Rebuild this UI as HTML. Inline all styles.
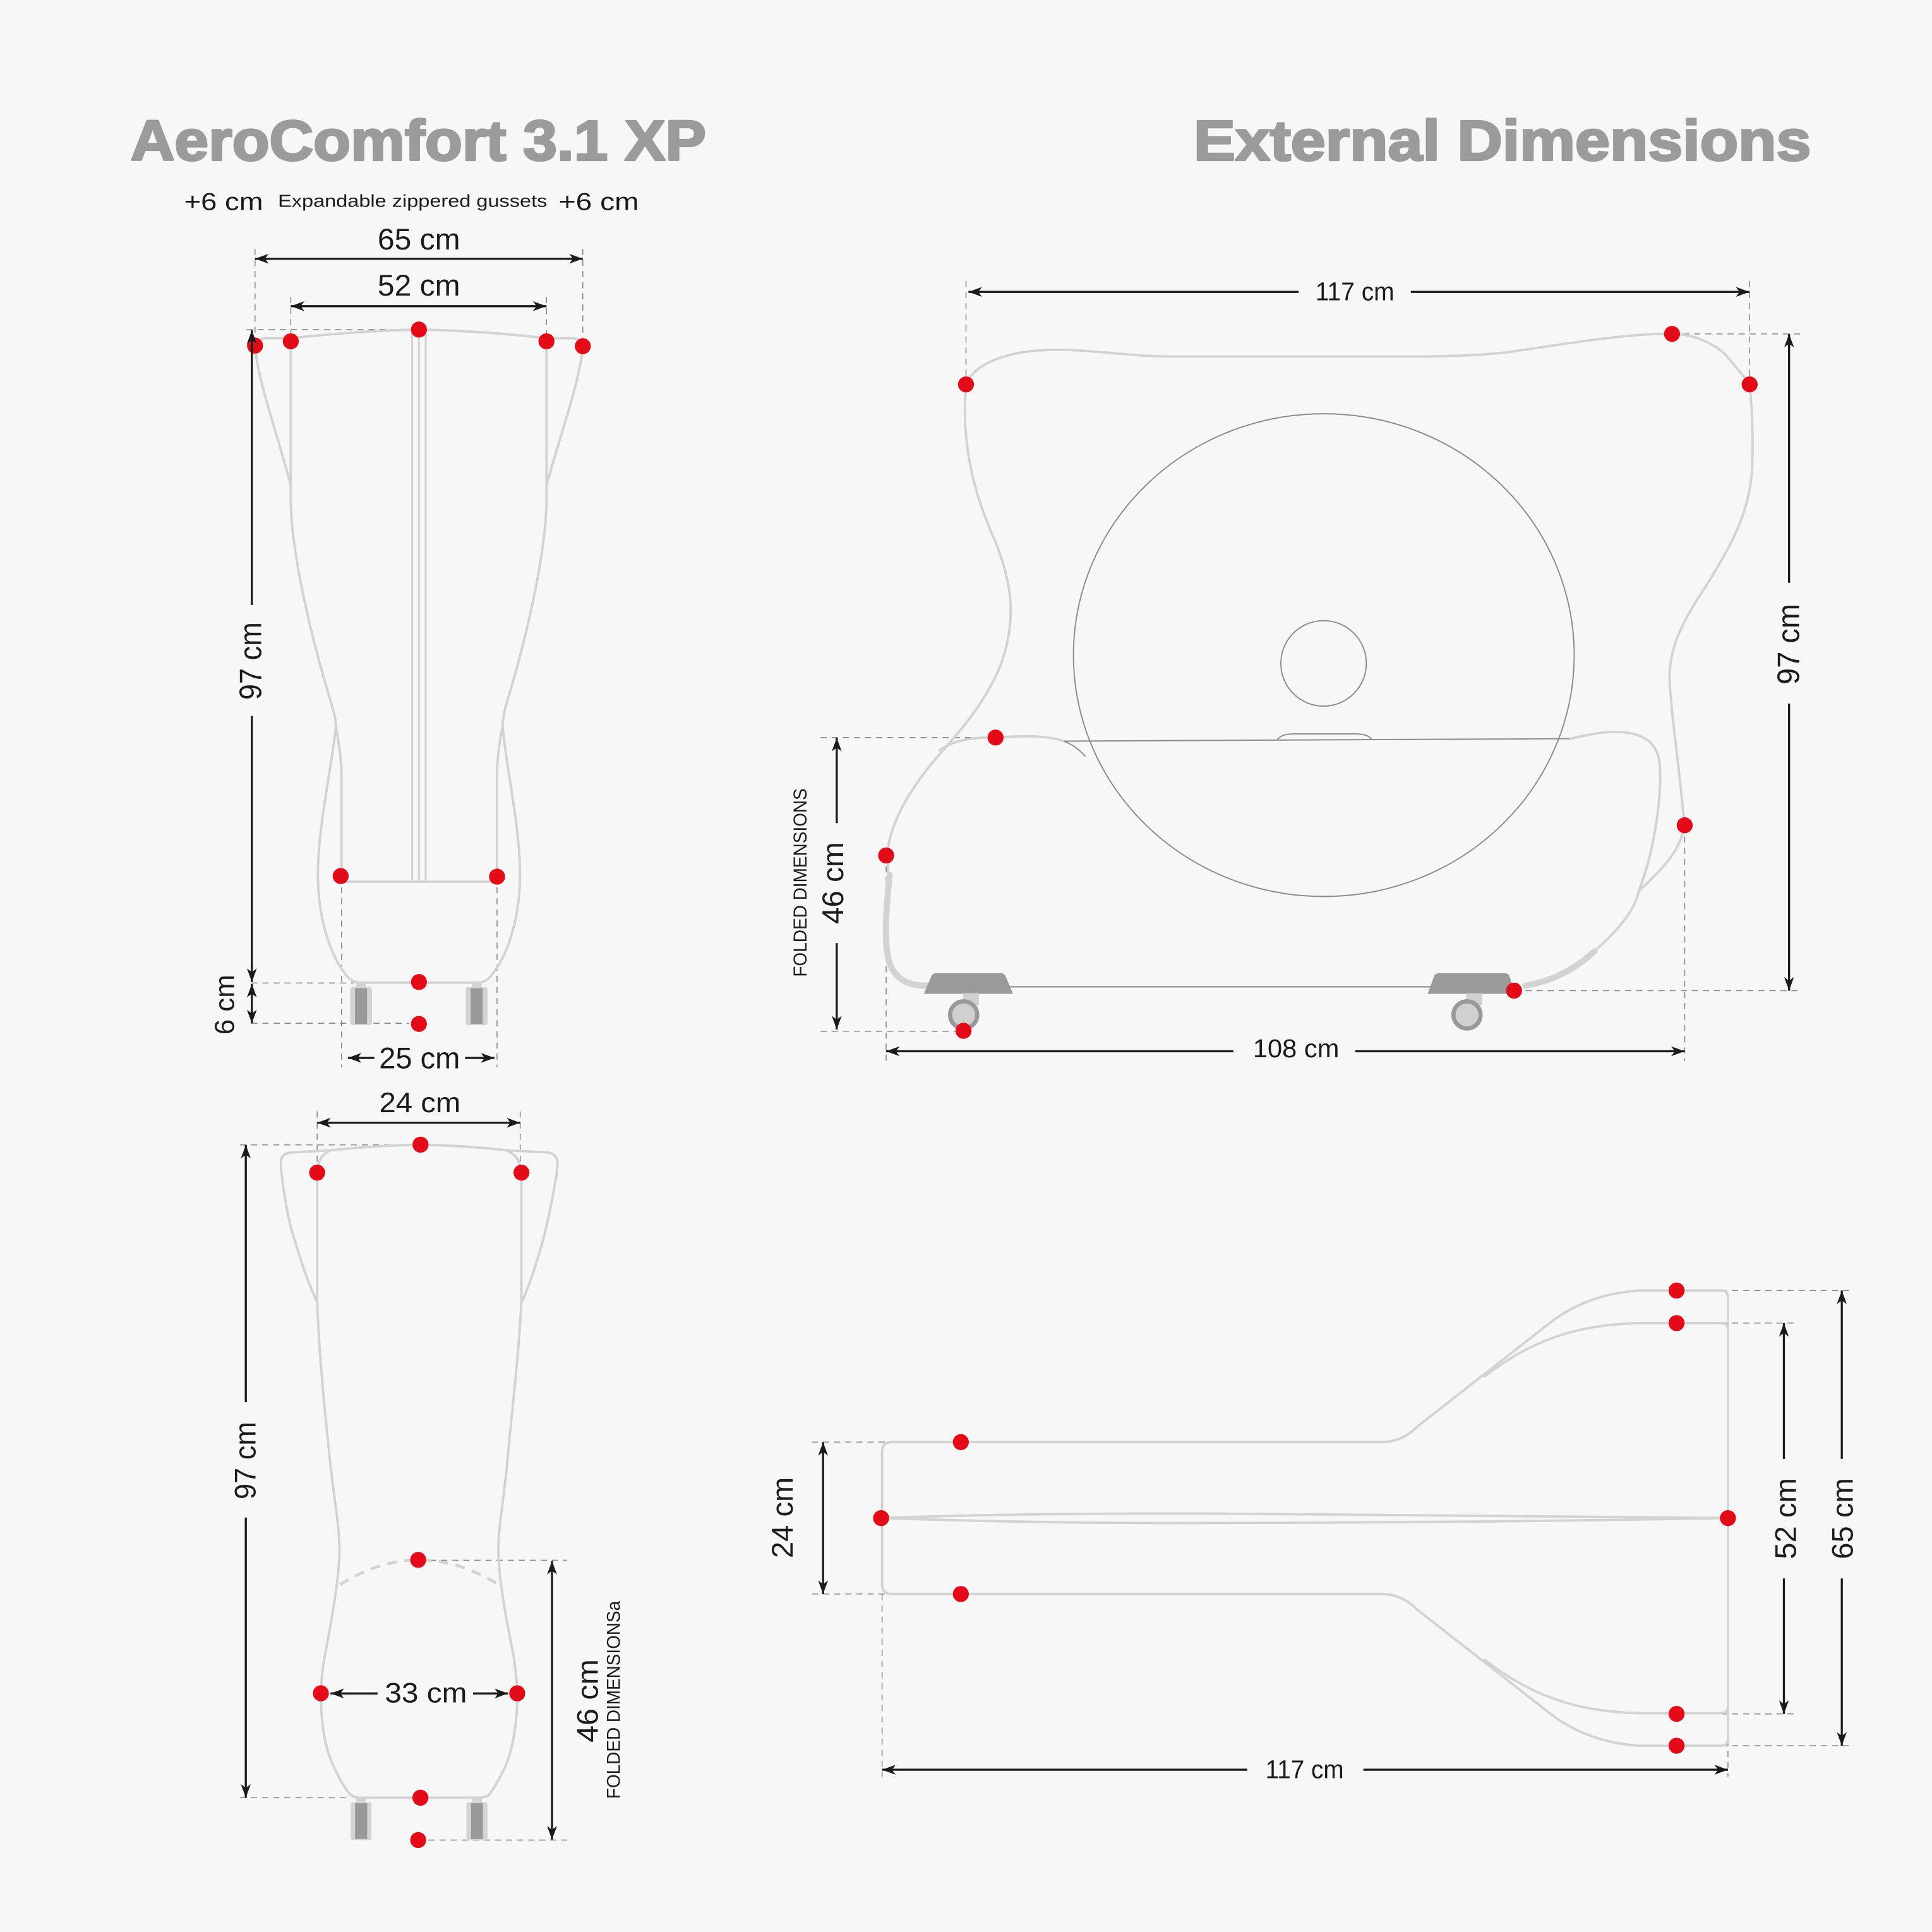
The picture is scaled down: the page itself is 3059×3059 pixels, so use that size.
<!DOCTYPE html>
<html><head><meta charset="utf-8"><style>
html,body{margin:0;padding:0;background:#f7f7f7;}
svg{display:block;}
.o{fill:none;stroke:#d3d3d3;stroke-width:2;stroke-linecap:round;stroke-linejoin:round}
.z{fill:none;stroke:#d3d3d3;stroke-width:1.6}
.k{fill:none;stroke:#d3d3d3;stroke-width:5;stroke-linecap:round}
.t{fill:none;stroke:#8c8c8c;stroke-width:1}
.d{fill:none;stroke:#8a8a8a;stroke-width:0.8;stroke-dasharray:5 4}
.a{fill:none;stroke:#1b1b1b;stroke-width:1.7}
.r{fill:#e20b17}
text{font-family:"Liberation Sans",Arial,sans-serif;fill:#1b1b1b}
.ti{font-weight:bold;fill:#9b9b9b;font-size:46px;stroke:#9b9b9b;stroke-width:1.7;stroke-linejoin:round}
</style></head><body>
<svg xmlns="http://www.w3.org/2000/svg" width="3059" height="3059" viewBox="0 0 1568 1568">
<defs>
<marker id="ah" viewBox="0 0 12 10" refX="11" refY="5" markerWidth="12" markerHeight="10" markerUnits="userSpaceOnUse" orient="auto-start-reverse">
<path d="M0,1 L11,5 L0,9 L3,5 Z" fill="#1b1b1b"/>
</marker>
</defs>
<rect x="0" y="0" width="1568" height="1568" fill="#f7f7f7"/>

<!-- Titles -->
<text class="ti" x="106" y="130" textLength="467" lengthAdjust="spacingAndGlyphs">AeroComfort 3.1 XP</text>
<text class="ti" x="968.8" y="130" textLength="501" lengthAdjust="spacingAndGlyphs">External Dimensions</text>

<!-- ================= TOP-LEFT (front view) ================= -->
<text x="149.5" y="170.5" font-size="20" textLength="64" lengthAdjust="spacingAndGlyphs">+6 cm</text>
<text x="225.6" y="167.8" font-size="14" textLength="218.5" lengthAdjust="spacingAndGlyphs">Expandable zippered gussets</text>
<text x="453.5" y="170.5" font-size="20" textLength="65" lengthAdjust="spacingAndGlyphs">+6 cm</text>
<text x="340" y="202.5" font-size="24" text-anchor="middle" textLength="67" lengthAdjust="spacingAndGlyphs">65 cm</text>
<text x="340" y="240" font-size="24" text-anchor="middle" textLength="67" lengthAdjust="spacingAndGlyphs">52 cm</text>

<line class="d" x1="200" y1="267.5" x2="340" y2="267.5"/>
<line class="d" x1="207" y1="202" x2="207" y2="280"/>
<line class="d" x1="473" y1="202" x2="473" y2="281"/>
<line class="d" x1="236" y1="241" x2="236" y2="277"/>
<line class="d" x1="443.5" y1="241" x2="443.5" y2="277"/>
<line class="d" x1="204" y1="797.8" x2="287" y2="797.8"/>
<line class="d" x1="204" y1="830.5" x2="332" y2="830.5"/>
<line class="d" x1="277.2" y1="711" x2="277.2" y2="866"/>
<line class="d" x1="403.4" y1="711" x2="403.4" y2="866"/>

<path class="o" d="M207,283 Q208,274.5 216,274.5 L236,274.5 Q290,268.5 340,267.5 Q392,268.5 443.5,274.5 L465,274.5 Q472,275 473,283"/>
<path class="o" d="M207,283 C211,315 226,355 236,394"/>
<path class="o" d="M473,283 C469,315 454,355 443.5,394"/>
<path class="o" d="M236,277 L236,409 C237,450 252,515 268,568 C271,578 272.7,584 272.7,589 C275,605 277.2,615 277.2,630 L277.2,711"/>
<path class="o" d="M443.5,277 L443.5,409 C442.5,450 428,515 412,568 C409,578 407.9,584 407.9,589 C405,605 403.4,615 403.4,630 L403.4,711"/>
<path class="o" d="M272.7,589 C269,625 258,670 258,710 C258,745 268,775 280,790 Q285,797.5 292,797.5 L388,797.5 Q395,797.5 400,790 C412,775 422,745 422,710 C422,670 411,625 407.9,589"/>
<line class="o" x1="277.2" y1="715.6" x2="403.4" y2="715.6"/>
<line class="z" x1="334.5" y1="267.5" x2="334.5" y2="715.6"/>
<line class="z" x1="340" y1="267.5" x2="340" y2="715.6"/>
<line class="z" x1="345.5" y1="267.5" x2="345.5" y2="715.6"/>

<rect x="289" y="797" width="8" height="6" fill="#d3d3d3"/>
<rect x="284.2" y="801" width="17.7" height="31" rx="2" fill="#d3d3d3"/>
<rect x="288.1" y="802" width="9.8" height="29" fill="#999"/>
<rect x="383" y="797" width="8" height="6" fill="#d3d3d3"/>
<rect x="378" y="801" width="17.7" height="31" rx="2" fill="#d3d3d3"/>
<rect x="381.9" y="802" width="9.8" height="29" fill="#999"/>

<circle class="r" cx="207" cy="280.5" r="6.5"/>
<circle class="r" cx="236" cy="277" r="6.5"/>
<circle class="r" cx="340" cy="267.5" r="6.5"/>
<circle class="r" cx="443.5" cy="277" r="6.5"/>
<circle class="r" cx="473" cy="281" r="6.5"/>
<circle class="r" cx="276.5" cy="711" r="6.5"/>
<circle class="r" cx="403.4" cy="711.5" r="6.5"/>
<circle class="r" cx="340" cy="797" r="6.5"/>
<circle class="r" cx="340" cy="831" r="6.5"/>

<line class="a" x1="207" y1="210" x2="473" y2="210" marker-start="url(#ah)" marker-end="url(#ah)"/>
<line class="a" x1="236" y1="248.5" x2="443.5" y2="248.5" marker-start="url(#ah)" marker-end="url(#ah)"/>
<line class="a" x1="204.4" y1="268" x2="204.4" y2="491" marker-start="url(#ah)"/>
<line class="a" x1="204.4" y1="581" x2="204.4" y2="797" marker-end="url(#ah)"/>
<line class="a" x1="204.4" y1="798.5" x2="204.4" y2="830.5" marker-start="url(#ah)" marker-end="url(#ah)"/>
<line class="a" x1="303.8" y1="858.6" x2="282.3" y2="858.6" marker-end="url(#ah)"/>
<line class="a" x1="377.4" y1="858.6" x2="401.3" y2="858.6" marker-end="url(#ah)"/>

<text transform="translate(212,536.5) rotate(-90)" font-size="25" text-anchor="middle" textLength="63" lengthAdjust="spacingAndGlyphs">97 cm</text>
<text transform="translate(190,815.4) rotate(-90)" font-size="22.5" text-anchor="middle" textLength="48.7" lengthAdjust="spacingAndGlyphs">6 cm</text>
<text x="340.5" y="867" font-size="24" text-anchor="middle" textLength="65.7" lengthAdjust="spacingAndGlyphs">25 cm</text>

<!-- ================= TOP-RIGHT (side view) ================= -->
<line class="d" x1="784" y1="228" x2="784" y2="312"/>
<line class="d" x1="1420" y1="228" x2="1420" y2="312"/>
<line class="d" x1="1357" y1="271" x2="1462" y2="271"/>
<line class="d" x1="666" y1="598.6" x2="808" y2="598.6"/>
<line class="d" x1="666" y1="837" x2="782" y2="837"/>
<line class="d" x1="1229" y1="804" x2="1462" y2="804"/>
<line class="d" x1="719.2" y1="694" x2="719.2" y2="861"/>
<line class="d" x1="1367.3" y1="670" x2="1367.3" y2="861"/>

<ellipse class="t" cx="1074.4" cy="531.7" rx="203.2" ry="195.9"/>
<circle class="t" cx="1074.2" cy="538.4" r="34.7"/>
<line class="t" x1="862.5" y1="601.5" x2="1274.7" y2="599.5"/>
<path class="t" d="M862.5,601.5 Q872,604 881,614"/>
<path class="t" d="M1036.7,600.3 Q1040,595.6 1050,595.6 L1100,595.6 Q1110,595.6 1113.2,600"/>
<line x1="750" y1="800.8" x2="1229" y2="800.8" stroke="#999" stroke-width="1.2"/>

<path class="o" d="M784,312 C790,296 815,285 852,284 C880,283 915,289 947,289.3 L1156,289.3 C1185,289 1205,288 1222,286 C1260,281 1320,270 1357,271 C1375,271 1395,280 1404,292 C1412,302 1418,308 1420,312"/>
<path class="o" d="M784,312 C780,360 790,400 808,440 C822,475 825,505 812,540 C800,570 778,595 760,615 C735,645 722,670 720,694 L721,709"/>
<path class="o" d="M1420,312 C1422,330 1423,360 1422,380 C1420,420 1400,450 1385,475 C1365,505 1355,525 1355,550 C1356,580 1363,620 1367,670"/>
<path class="o" d="M1367,670 C1364,690 1350,705 1330,723"/>
<path class="o" d="M762.6,609 C775,600 790,598.5 808,598.5 C820,598 835,597 845,598 C855,599 860,600 862.5,601.5"/>
<path class="o" d="M1274.7,599.5 C1290,596 1300,594 1310,594 C1330,594 1345,600 1347,620 C1349,645 1343,690 1330,723 C1327,740 1310,758 1294,772"/>
<path class="k" d="M722,710 C719,740 717,765 722,782 C728,797 740,800 752,800"/>
<path class="k" d="M1294,772 C1275,790 1255,797 1238,800"/>

<path d="M749.8,806.6 L756,792 Q757,789.8 760,789.8 L812,789.8 Q815,789.8 816,792 L822.1,806.6 Z" fill="#9a9a9a"/>
<path d="M1158.7,806.6 L1164,792 Q1165,789.8 1168,789.8 L1221,789.8 Q1224,789.8 1225,792 L1229.7,806.6 Z" fill="#9a9a9a"/>
<rect x="781.7" y="806" width="12.8" height="10" fill="#d0d0d0"/>
<rect x="1190" y="806" width="13" height="10" fill="#d0d0d0"/>
<circle cx="782.1" cy="823.7" r="11" fill="#d0d0d0" stroke="#999" stroke-width="3.4"/>
<circle cx="1190.6" cy="823.7" r="11" fill="#d0d0d0" stroke="#999" stroke-width="3.4"/>

<circle class="r" cx="784" cy="312" r="6.5"/>
<circle class="r" cx="1357" cy="271" r="6.5"/>
<circle class="r" cx="1420" cy="312" r="6.5"/>
<circle class="r" cx="808" cy="598.6" r="6.5"/>
<circle class="r" cx="719.2" cy="694.3" r="6.5"/>
<circle class="r" cx="1367.3" cy="669.8" r="6.5"/>
<circle class="r" cx="1228.8" cy="804" r="6.5"/>
<circle class="r" cx="782" cy="836.6" r="6.5"/>

<line class="a" x1="786" y1="236.9" x2="1054" y2="236.9" marker-start="url(#ah)"/>
<line class="a" x1="1145" y1="236.9" x2="1419.8" y2="236.9" marker-end="url(#ah)"/>
<text x="1099.6" y="243.7" font-size="21" text-anchor="middle" textLength="64" lengthAdjust="spacingAndGlyphs">117 cm</text>
<line class="a" x1="1452" y1="271" x2="1452" y2="473" marker-start="url(#ah)"/>
<line class="a" x1="1452" y1="571" x2="1452" y2="804" marker-end="url(#ah)"/>
<text transform="translate(1460,522.8) rotate(-90)" font-size="25" text-anchor="middle" textLength="65.5" lengthAdjust="spacingAndGlyphs">97 cm</text>
<line class="a" x1="679.1" y1="598.8" x2="679.1" y2="668" marker-start="url(#ah)"/>
<line class="a" x1="679.1" y1="765.4" x2="679.1" y2="835.5" marker-end="url(#ah)"/>
<text transform="translate(684.3,716.7) rotate(-90)" font-size="24" text-anchor="middle" textLength="66.6" lengthAdjust="spacingAndGlyphs">46 cm</text>
<text transform="translate(654.7,716.3) rotate(-90)" font-size="15" text-anchor="middle" textLength="153" lengthAdjust="spacingAndGlyphs">FOLDED DIMENSIONS</text>
<line class="a" x1="719.1" y1="853.2" x2="1001" y2="853.2" marker-start="url(#ah)"/>
<line class="a" x1="1100" y1="853.2" x2="1367.3" y2="853.2" marker-end="url(#ah)"/>
<text x="1051.9" y="858" font-size="21" text-anchor="middle" textLength="70" lengthAdjust="spacingAndGlyphs">108 cm</text>

<!-- ================= BOTTOM-LEFT ================= -->
<line class="d" x1="257.4" y1="902" x2="257.4" y2="952"/>
<line class="d" x1="422.2" y1="902" x2="422.2" y2="952"/>
<line class="d" x1="194.7" y1="929.2" x2="341" y2="929.2"/>
<line class="d" x1="194.7" y1="1459" x2="285" y2="1459"/>
<line class="d" x1="340" y1="1266.3" x2="460" y2="1266.3"/>
<line class="d" x1="347.7" y1="1493.4" x2="460.4" y2="1493.4"/>

<path class="o" d="M228,948 L228,942 Q229,935.3 238,935.3 L269,933.5 Q300,930 341,929 Q382,930 410,933.5 L444,935.3 Q452,936 452.6,944 L451.6,953.7"/>
<path class="o" d="M228,948 C231,975 235,995 240,1009 C246,1030 252,1045 257.4,1057"/>
<path class="o" d="M451.6,953.7 C448,975 444,995 440,1009 C434,1030 429,1045 423.2,1057"/>
<path class="o" d="M257.4,952 Q258,937 269,933.5"/>
<path class="o" d="M423.2,952 Q422,937 410,933.5"/>
<path class="o" d="M257.4,952 L257.4,1056 C259,1100 264,1150 267.2,1179 C270,1210 276,1240 275.5,1260 C275,1285 268,1320 264,1342 C261,1358 260.4,1368 260.4,1376 C260.4,1395 263,1418 271,1434 C276,1445 280,1452 285,1457 Q288,1459 293,1459 L388,1459 Q393,1459 396.7,1457 C402,1450 406,1442 410,1434 C417,1418 419.8,1395 419.8,1376 C419.8,1368 419,1358 416.5,1342 C412,1320 405,1285 404.5,1260 C404,1240 410,1210 412.4,1179 C415,1150 421,1100 423.2,1056 L423.2,952"/>
<path d="M276,1286 Q340,1246 404.5,1286" fill="none" stroke="#d3d3d3" stroke-width="2.4" stroke-dasharray="8 6"/>

<rect x="289" y="1458" width="8" height="6" fill="#d3d3d3"/>
<rect x="284.5" y="1462.6" width="17" height="30.8" rx="2" fill="#d3d3d3"/>
<rect x="288.2" y="1463.5" width="9.8" height="29" fill="#999"/>
<rect x="383" y="1458" width="8" height="6" fill="#d3d3d3"/>
<rect x="378.6" y="1462.6" width="17" height="30.8" rx="2" fill="#d3d3d3"/>
<rect x="382.3" y="1463.5" width="9.6" height="29" fill="#999"/>

<circle class="r" cx="257.4" cy="951.7" r="6.5"/>
<circle class="r" cx="341.3" cy="929" r="6.5"/>
<circle class="r" cx="423.2" cy="951.7" r="6.5"/>
<circle class="r" cx="339.4" cy="1266" r="6.5"/>
<circle class="r" cx="260.4" cy="1374.3" r="6.5"/>
<circle class="r" cx="419.8" cy="1374.3" r="6.5"/>
<circle class="r" cx="341.2" cy="1459" r="6.5"/>
<circle class="r" cx="339.4" cy="1493.4" r="6.5"/>

<text x="340.8" y="902.7" font-size="23" text-anchor="middle" textLength="66" lengthAdjust="spacingAndGlyphs">24 cm</text>
<line class="a" x1="257.4" y1="911.2" x2="422.2" y2="911.2" marker-start="url(#ah)" marker-end="url(#ah)"/>
<line class="a" x1="199.5" y1="929.2" x2="199.5" y2="1138" marker-start="url(#ah)"/>
<line class="a" x1="199.5" y1="1231.6" x2="199.5" y2="1459" marker-end="url(#ah)"/>
<text transform="translate(207.4,1185.4) rotate(-90)" font-size="24" text-anchor="middle" textLength="63" lengthAdjust="spacingAndGlyphs">97 cm</text>
<line class="a" x1="306.5" y1="1374.4" x2="268.2" y2="1374.4" marker-end="url(#ah)"/>
<line class="a" x1="383.9" y1="1374.4" x2="412.4" y2="1374.4" marker-end="url(#ah)"/>
<text x="345.7" y="1381.8" font-size="23" text-anchor="middle" textLength="66.7" lengthAdjust="spacingAndGlyphs">33 cm</text>
<line class="a" x1="448" y1="1266.8" x2="448" y2="1493" marker-start="url(#ah)" marker-end="url(#ah)"/>
<text transform="translate(485.2,1380.4) rotate(-90)" font-size="24" text-anchor="middle" textLength="67.5" lengthAdjust="spacingAndGlyphs">46 cm</text>
<text transform="translate(503.2,1379.6) rotate(-90)" font-size="15" text-anchor="middle" textLength="160.6" lengthAdjust="spacingAndGlyphs">FOLDED DIMENSIONSa</text>

<!-- ================= BOTTOM-RIGHT (top view) ================= -->
<line class="d" x1="659" y1="1170.4" x2="780" y2="1170.4"/>
<line class="d" x1="659" y1="1293.7" x2="780" y2="1293.7"/>
<line class="d" x1="715.9" y1="1294" x2="715.9" y2="1442"/>
<line class="d" x1="1402.4" y1="1232" x2="1402.4" y2="1442"/>
<line class="d" x1="1360.7" y1="1047.4" x2="1500.7" y2="1047.4"/>
<line class="d" x1="1360.7" y1="1416.8" x2="1500.7" y2="1416.8"/>
<line class="d" x1="1360.7" y1="1073.8" x2="1456.6" y2="1073.8"/>
<line class="d" x1="1360.7" y1="1391" x2="1456.6" y2="1391"/>

<path class="o" d="M724,1170.4 L1121,1170.4 Q1138,1170.4 1150,1158 L1260,1072 Q1290,1050 1330,1047.4 L1397,1047.4 Q1402.4,1047.4 1402.4,1053 L1402.4,1411 Q1402.4,1416.8 1397,1416.8 L1330,1416.8 Q1290,1414.2 1260,1392.2 L1150,1306.2 Q1138,1293.7 1121,1293.7 L724,1293.7 Q716,1293.7 715.9,1286 L715.9,1178 Q716,1170.4 724,1170.4 Z"/>
<path class="o" d="M1205,1117 C1250,1082 1290,1075 1330,1073.8 L1397,1073.8 Q1402,1073.8 1402.4,1079"/>
<path class="o" d="M1205,1347.2 C1250,1382.2 1290,1389.2 1330,1390.4 L1397,1390.4 Q1402,1390.4 1402.4,1385"/>
<path class="o" d="M715.9,1232 C800,1229 900,1228 1000,1228.5 C1200,1229 1350,1231 1402.4,1232 C1350,1233 1200,1235.5 1000,1236 C900,1236.5 800,1235 715.9,1232 Z"/>

<circle class="r" cx="779.8" cy="1170.4" r="6.5"/>
<circle class="r" cx="715.1" cy="1232.1" r="6.5"/>
<circle class="r" cx="779.8" cy="1293.7" r="6.5"/>
<circle class="r" cx="1402.4" cy="1232.1" r="6.5"/>
<circle class="r" cx="1360.7" cy="1047.4" r="6.5"/>
<circle class="r" cx="1360.7" cy="1073.8" r="6.5"/>
<circle class="r" cx="1360.7" cy="1391" r="6.5"/>
<circle class="r" cx="1360.7" cy="1416.8" r="6.5"/>

<line class="a" x1="668" y1="1170.4" x2="668" y2="1293.7" marker-start="url(#ah)" marker-end="url(#ah)"/>
<text transform="translate(643.3,1231.7) rotate(-90)" font-size="24" text-anchor="middle" textLength="65.8" lengthAdjust="spacingAndGlyphs">24 cm</text>
<line class="a" x1="715.9" y1="1436.3" x2="1012.3" y2="1436.3" marker-start="url(#ah)"/>
<line class="a" x1="1106.5" y1="1436.3" x2="1402.4" y2="1436.3" marker-end="url(#ah)"/>
<text x="1058.8" y="1443.2" font-size="21" text-anchor="middle" textLength="63.6" lengthAdjust="spacingAndGlyphs">117 cm</text>
<line class="a" x1="1447.8" y1="1073.8" x2="1447.8" y2="1184" marker-start="url(#ah)"/>
<line class="a" x1="1447.8" y1="1281.1" x2="1447.8" y2="1391" marker-end="url(#ah)"/>
<text transform="translate(1457.5,1232.5) rotate(-90)" font-size="24" text-anchor="middle" textLength="65.9" lengthAdjust="spacingAndGlyphs">52 cm</text>
<line class="a" x1="1494.8" y1="1047.4" x2="1494.8" y2="1184" marker-start="url(#ah)"/>
<line class="a" x1="1494.8" y1="1281.1" x2="1494.8" y2="1416.8" marker-end="url(#ah)"/>
<text transform="translate(1503.6,1232.5) rotate(-90)" font-size="24" text-anchor="middle" textLength="65.9" lengthAdjust="spacingAndGlyphs">65 cm</text>
</svg>
</body></html>
